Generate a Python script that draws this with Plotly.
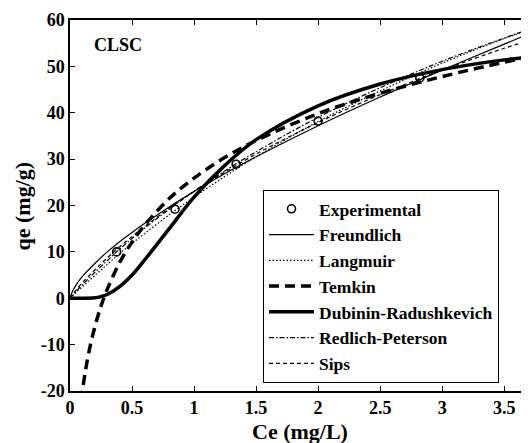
import plotly.graph_objects as go

# Experimental data
ce_exp = [0.376, 0.847, 1.339, 2.0, 2.82, 3.69]
qe_exp = [10.0, 19.2, 28.9, 38.2, 47.5, 56.4]

# Model curves
ce_grid = [0.0, 0.02, 0.05, 0.1, 0.2, 0.3, 0.4, 0.5, 0.6, 0.8, 1.0, 1.25, 1.5, 2.0, 2.5, 3.0, 3.5, 3.7]
q_freundlich = [0.0, 1.5, 2.9, 4.7, 7.5, 10.0, 12.2, 14.2, 16.1, 19.7, 23.0, 26.9, 30.5, 37.2, 43.4, 49.2, 54.8, 57.0]
q_langmuir = [0.0, 0.5, 1.3, 2.5, 4.9, 7.3, 9.6, 11.8, 13.9, 18.0, 21.8, 26.3, 30.5, 38.1, 44.7, 50.7, 56.0, 57.9]
q_rp = [0.0, 0.6, 1.5, 2.9, 5.6, 8.1, 10.6, 12.9, 15.1, 19.2, 23.1, 27.5, 31.6, 39.0, 45.4, 51.1, 56.1, 58.0]
q_sips = [0.0, 0.8, 1.8, 3.4, 6.1, 8.7, 11.1, 13.3, 15.4, 19.4, 23.0, 27.2, 31.1, 37.9, 43.9, 49.2, 53.9, 55.6]

ce_dr = [0.0, 0.1, 0.2, 0.25, 0.3, 0.4, 0.5, 0.6, 0.8, 1.0, 1.25, 1.5, 2.0, 2.5, 3.0, 3.5, 3.7]
q_dr = [0.0, 0.0, 0.1, 0.35, 0.8, 2.5, 5.0, 8.2, 15.0, 21.8, 28.7, 34.2, 41.5, 46.2, 49.3, 51.4, 52.0]

ce_temkin = [0.09, 0.1, 0.12, 0.15, 0.2, 0.25, 0.3, 0.4, 0.5, 0.6, 0.8, 1.0, 1.25, 1.5, 2.0, 2.5, 3.0, 3.5, 3.7]
q_temkin = [-22.1, -20.0, -16.4, -11.9, -6.2, -1.7, 1.9, 7.7, 12.1, 15.7, 21.5, 25.9, 30.4, 34.0, 39.8, 44.2, 47.8, 50.9, 52.0]

x_ticks = [0, 0.5, 1, 1.5, 2, 2.5, 3, 3.5]
x_tick_labels = ["0", "0.5", "1", "1.5", "2", "2.5", "3", "3.5"]
y_ticks = [-20, -10, 0, 10, 20, 30, 40, 50, 60]
y_tick_labels = ["-20", "-10", "0", "10", "20", "30", "40", "50", "60"]

FONT = "Liberation Serif"
fig = go.Figure()

fig.add_trace(go.Scatter(x=ce_exp, y=qe_exp, mode="markers", name="<b>Experimental</b>",
                         marker=dict(symbol="circle-open", size=8, color="black", line=dict(width=1.6)),
                         legendgroup="a", cliponaxis=False))
fig.add_trace(go.Scatter(x=ce_grid, y=q_freundlich, mode="lines", name="<b>Freundlich</b>",
                         line=dict(color="black", width=1.2, shape="spline"), legendgroup="b"))
fig.add_trace(go.Scatter(x=ce_grid, y=q_langmuir, mode="lines", name="<b>Langmuir</b>",
                         line=dict(color="black", width=1.2, dash="1.5px,2px", shape="spline"), legendgroup="c"))
fig.add_trace(go.Scatter(x=ce_temkin, y=q_temkin, mode="lines", name="<b>Temkin</b>",
                         line=dict(color="black", width=3.5, dash="10px,6px", shape="spline"), legendgroup="d"))
fig.add_trace(go.Scatter(x=ce_dr, y=q_dr, mode="lines", name="<b>Dubinin-Radushkevich</b>",
                         line=dict(color="black", width=3.5, shape="spline"), legendgroup="e"))
fig.add_trace(go.Scatter(x=ce_grid, y=q_rp, mode="lines", name="<b>Redlich-Peterson</b>",
                         line=dict(color="black", width=1.2, dash="5px,2px,1.5px,2px", shape="spline"),
                         legendgroup="f"))
fig.add_trace(go.Scatter(x=ce_grid, y=q_sips, mode="lines", name="<b>Sips</b>",
                         line=dict(color="black", width=1.2, dash="4px,3px", shape="spline"), legendgroup="g"))

axis_font = dict(family=FONT, size=18, color="black")
fig.update_layout(
    width=521, height=435,
    margin=dict(l=62, r=0, t=12, b=52),
    paper_bgcolor="white", plot_bgcolor="white",
    font=dict(family=FONT, color="black"),
    showlegend=True,
    legend=dict(x=0.4205, y=0.542, xanchor="left", yanchor="top",
                bgcolor="white", bordercolor="black", borderwidth=1,
                font=dict(family=FONT, size=17.5, color="black"),
                itemwidth=45, tracegroupgap=0, traceorder="grouped"),
    xaxis=dict(range=[0, 3.70], tickvals=x_ticks, ticktext=["<b>%s</b>" % t for t in x_tick_labels],
               ticks="inside", ticklen=5, tickcolor="black", showline=True, linecolor="black",
               linewidth=1.5, mirror="allticks", showgrid=False, zeroline=False,
               tickfont=axis_font),
    yaxis=dict(range=[-20, 60], tickvals=y_ticks, ticktext=["<b>%s</b>" % t for t in y_tick_labels],
               ticks="inside", ticklen=5, tickcolor="black", showline=True, linecolor="black",
               linewidth=1.5, showgrid=False, zeroline=False, tickfont=axis_font),
    annotations=[
        dict(text="<b>CLSC</b>", x=0.048, y=0.9326, xref="paper", yref="paper", xanchor="left",
             yanchor="middle", showarrow=False, font=dict(family=FONT, size=18, color="black")),
        dict(text="<b>Ce (mg/L)</b>", x=0.5, y=-0.11, xref="paper", yref="paper", xanchor="center",
             yanchor="middle", showarrow=False, font=dict(family=FONT, size=22, color="black")),
        dict(text="<b>qe (mg/g)</b>", x=-0.1024, y=0.5, xref="paper", yref="paper", xanchor="center",
             yanchor="middle", textangle=-90, showarrow=False,
             font=dict(family=FONT, size=22, color="black")),
    ],
)

fig.write_html("out.html")
